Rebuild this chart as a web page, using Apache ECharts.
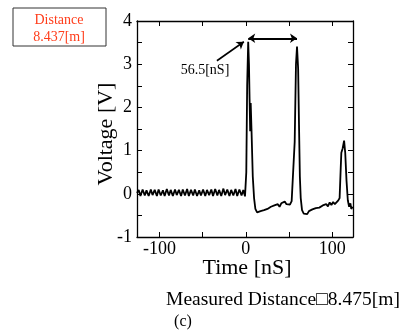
<!DOCTYPE html>
<html>
<head>
<meta charset="utf-8">
<script src="https://cdn.jsdelivr.net/npm/echarts@6/dist/echarts.min.js"></script>
<style>html,body{margin:0;padding:0;background:#fff}#c{width:402px;height:334px}</style>
</head>
<body>
<div id="c"></div>
<script>
// Time [nS] / Voltage [V] pairs
const baselineNoise = [
  [-126,0.02],[-124,0.09],[-122,-0.05],[-119.5,0.1],[-117,-0.04],[-115,0.08],[-112.5,-0.05],[-110,0.1],
  [-108,-0.03],[-105.5,0.09],[-103,-0.05],[-101,0.1],[-98.5,-0.04],[-96,0.08],[-94,-0.05],[-91.5,0.11],
  [-89,-0.04],[-87,0.09],[-84.5,-0.05],[-82,0.1],[-80,-0.03],[-77.5,0.09],[-75,-0.05],[-73,0.1],
  [-70.5,-0.04],[-68,0.11],[-66,-0.05],[-63.5,0.09],[-61,-0.04],[-59,0.1],[-56.5,-0.05],[-54,0.08],
  [-52,-0.04],[-49.5,0.1],[-47,-0.05],[-45,0.09],[-42.5,-0.03],[-40,0.1],[-38,-0.05],[-35.5,0.11],
  [-33,-0.04],[-31,0.09],[-28.5,-0.05],[-26,0.12],[-24,-0.03],[-21.5,0.1],[-19,-0.05],[-17,0.09],
  [-14.5,-0.04],[-12,0.11],[-10,-0.05],[-7.5,0.1],[-5,-0.04],[-3,0.09],[-1,-0.06],[0,-0.08]
];
const pulses = [
  [0.5,0.5],[1.5,2.5],[2.7,3.52],[3.6,3.0],[4.3,2.2],[5.0,1.45],[5.6,2.1],[6.5,1.5],[8,0.4],[9.5,-0.1],
  [11,-0.35],[13,-0.43],[15,-0.47],[17,-0.4],[19,-0.44],[21,-0.38],[23,-0.41],[25,-0.35],[27,-0.37],
  [29,-0.3],[31,-0.34],[33,-0.27],[35,-0.31],[37,-0.24],[39,-0.3],[41,-0.22],[43,-0.26],[45,-0.18],
  [47,-0.24],[49,-0.2],[51,-0.25],[53,-0.17],[55,-0.15],[56.5,1.2],[58,3.0],[59.2,3.41],[60.5,2.9],
  [61.5,1.6],[62.5,0.4],[63.5,-0.1],[65,-0.38],[67,-0.46],[69,-0.43],[71,-0.47],[73,-0.4],[75,-0.43],
  [77,-0.36],[79,-0.4],[81,-0.33],[83,-0.37],[85,-0.32],[87,-0.35],[89,-0.27],[91,-0.31],[93,-0.24],
  [95,-0.29],[97,-0.2],[99,-0.26],[101,-0.19],[103,-0.24],[105,-0.2],[107,-0.15],[108.5,-0.1],
  [109.8,0.6],[110.5,0.95],[112,1.05],[113.7,1.23],[115,0.95],[116.5,0.3],[118,-0.15],[119.5,-0.3],
  [121,-0.22],[122,-0.35],[123.5,-0.3]
];
const xTicks = [-100,-50,0,50,100];
const xLabels = [-100,0,100];
const intervalArrow = [[2.7,3.6],[59.2,3.6]];
const pointerArrow = [[-33.5,3.08],[-2.3,3.52]];
const intervalText = '56.5[nS]';
const distanceBox = ['Distance','8.437[m]'];
const measuredText = 'Measured Distance\u25A18.475[m]';
const captionText = '(c)';
const xTitle = 'Time [nS]';
const yTitle = 'Voltage [V]';

const serif = '"Liberation Serif","DejaVu Serif",serif';
const chart = echarts.init(document.getElementById('c'), null, {renderer:'canvas'});
const axisLineStyle = {color:'#000', width:1.3};
chart.setOption({
  animation:false,
  backgroundColor:'#fff',
  grid:{left:137, top:21, right:49, bottom:97, containLabel:false},
  xAxis:[{
    type:'value', min:-126, max:124,
    axisLine:{onZero:false, lineStyle:axisLineStyle},
    axisTick:{inside:true, length:5, customValues:xTicks, lineStyle:{color:'#000'}},
    axisLabel:{customValues:xLabels, fontFamily:serif, fontSize:18, color:'#000', margin:3},
    splitLine:{show:false}
  },{
    type:'value', position:'top', min:-126, max:124,
    axisLine:{onZero:false, lineStyle:axisLineStyle},
    axisTick:{inside:true, length:5, customValues:xTicks, lineStyle:{color:'#000'}},
    axisLabel:{show:false}, splitLine:{show:false}
  }],
  yAxis:[{
    type:'value', min:-1, max:4, interval:0.5,
    axisLine:{show:true, onZero:false, lineStyle:axisLineStyle},
    axisTick:{show:true, inside:true, length:5, lineStyle:{color:'#000'}},
    axisLabel:{fontFamily:serif, fontSize:18, color:'#000', margin:5,
      formatter:v => Number.isInteger(v) ? String(v) : ''},
    splitLine:{show:false}
  },{
    type:'value', position:'right', min:-1, max:4, interval:0.5,
    axisLine:{show:true, onZero:false, lineStyle:axisLineStyle},
    axisTick:{show:true, inside:true, length:5, lineStyle:{color:'#000'}},
    axisLabel:{show:false}, splitLine:{show:false}
  }],
  series:[{
    type:'line', data:baselineNoise.concat(pulses), showSymbol:false, clip:true,
    lineStyle:{color:'#000', width:1.8},
    markLine:{
      silent:true, animation:false,
      label:{show:false},
      data:[
        [{coord:intervalArrow[0], symbol:'arrow', symbolSize:7, lineStyle:{color:'#000', width:2, type:'solid'}},
         {coord:intervalArrow[1], symbol:'arrow', symbolSize:7}],
        [{coord:pointerArrow[0], symbol:'none', lineStyle:{color:'#000', width:1.6, type:'solid'}},
         {coord:pointerArrow[1], symbol:'arrow', symbolSize:7}]
      ]
    }
  }],
  graphic:[
    {type:'rect', shape:{x:13, y:8, width:93, height:38}, style:{fill:'#fff', stroke:'#333', lineWidth:1}},
    {type:'text', x:59, y:20, style:{text:distanceBox[0], font:'14px '+serif, fill:'#ff3c1a', align:'center', verticalAlign:'middle'}},
    {type:'text', x:59, y:37, style:{text:distanceBox[1], font:'14px '+serif, fill:'#ff3c1a', align:'center', verticalAlign:'middle'}},
    {type:'text', x:205, y:70, style:{text:intervalText, font:'14px '+serif, fill:'#000', align:'center', verticalAlign:'middle'}},
    {type:'text', x:247, y:268, style:{text:xTitle, font:'22px '+serif, fill:'#000', align:'center', verticalAlign:'middle'}},
    {type:'text', x:106, y:134, rotation:Math.PI/2, style:{text:yTitle, font:'22px '+serif, fill:'#000', align:'center', verticalAlign:'middle'}},
    {type:'text', x:283, y:300, style:{text:measuredText, font:'19.5px '+serif, fill:'#000', align:'center', verticalAlign:'middle'}},
    {type:'text', x:183, y:322, style:{text:captionText, font:'16px '+serif, fill:'#000', align:'center', verticalAlign:'middle'}}
  ]
});
</script>
</body>
</html>
